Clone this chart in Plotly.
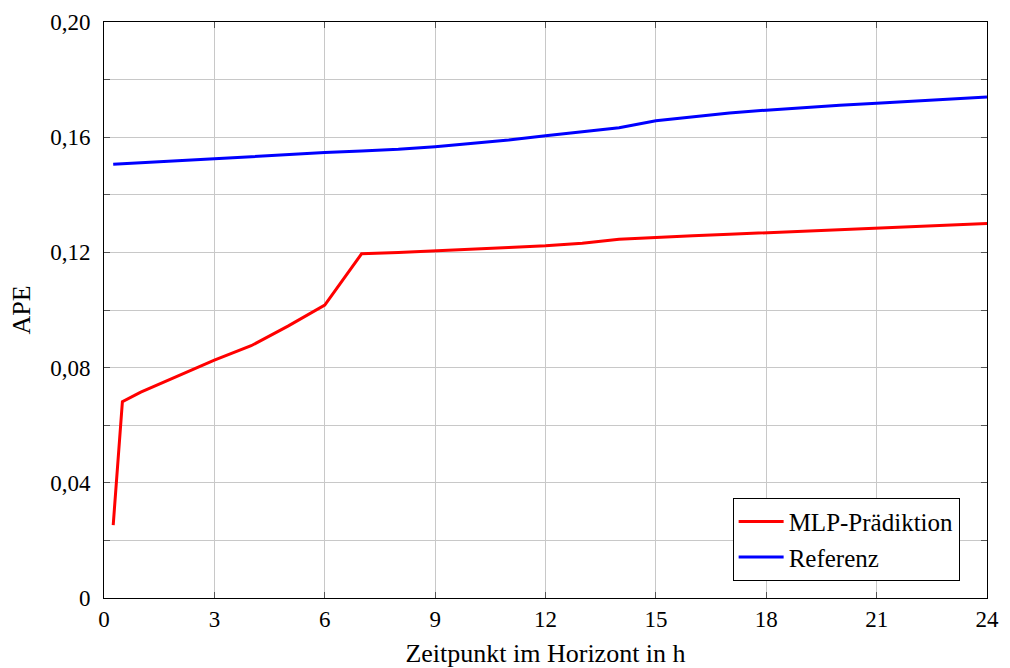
import plotly.graph_objects as go

# Zeitpunkte im Horizont (h)
stunden = [0.25, 0.5, 1, 2, 3, 4, 5, 6, 7, 8, 9, 10, 11, 12, 13, 14, 15, 16,
           17, 18, 19, 20, 21, 22, 23, 24]

ape_mlp = [0.0253, 0.0682, 0.0715, 0.0770, 0.0826, 0.0876, 0.0944, 0.1017,
           0.1195, 0.1200, 0.1205, 0.1210, 0.1217, 0.1223, 0.1232, 0.1246,
           0.1253, 0.1258, 0.1263, 0.1268, 0.1273, 0.1278, 0.1283, 0.1289,
           0.1294, 0.1300]

ape_referenz = [0.1506, 0.1508, 0.1511, 0.1518, 0.1525, 0.1533, 0.1540,
                0.1547, 0.1552, 0.1558, 0.1567, 0.1578, 0.1590, 0.1605,
                0.1619, 0.1633, 0.1657, 0.1670, 0.1684, 0.1694, 0.1703,
                0.1711, 0.1718, 0.1725, 0.1733, 0.1740]

x_ticks = [0, 3, 6, 9, 12, 15, 18, 21, 24]
y_ticks = [0, 0.02, 0.04, 0.06, 0.08, 0.10, 0.12, 0.14, 0.16, 0.18, 0.20]
y_labels = ["0", "", "0,04", "", "0,08", "", "0,12", "", "0,16", "", "0,20"]

schrift = "Liberation Serif"
groesse = 23

fig = go.Figure()
fig.add_trace(go.Scatter(x=stunden, y=ape_mlp, mode="lines",
                         name="MLP-Prädiktion",
                         line=dict(color="#ff0000", width=3)))
fig.add_trace(go.Scatter(x=stunden, y=ape_referenz, mode="lines",
                         name="Referenz",
                         line=dict(color="#0000ff", width=3)))

achse = dict(
    showline=True, linecolor="black", linewidth=1, mirror="ticks",
    ticks="inside", ticklen=6, tickcolor="#555555",
    showgrid=True, gridcolor="#c8c8c8", gridwidth=1,
    zeroline=False, automargin=False,
    tickfont=dict(family=schrift, size=groesse, color="black"),
)

fig.update_layout(
    width=1010, height=668,
    margin=dict(l=104, r=23, t=22, b=70),
    plot_bgcolor="white", paper_bgcolor="white",
    font=dict(family=schrift, size=groesse, color="black"),
    xaxis=dict(achse, range=[0, 24], tickvals=x_ticks,
               ticktext=[str(t) for t in x_ticks],
               title=dict(text="Zeitpunkt im Horizont in h", standoff=22,
                          font=dict(family=schrift, size=26))),
    yaxis=dict(achse, range=[0, 0.20], tickvals=y_ticks, ticktext=y_labels,
               ticklabelstandoff=8,
               title=dict(text="APE", standoff=12,
                          font=dict(family=schrift, size=26))),
    legend=dict(x=0.969, y=0.03, xanchor="right", yanchor="bottom",
                bgcolor="white", bordercolor="black", borderwidth=1,
                itemwidth=45, tracegroupgap=0,
                font=dict(family=schrift, size=25)),
    showlegend=True,
)

# Seitenrand entfernen, damit die Grafik genau ins Fenster passt
fig.write_html("out.html",
               config={"displayModeBar": False},
               post_script="document.body.style.margin='0';"
                           "document.body.style.overflow='hidden';")
